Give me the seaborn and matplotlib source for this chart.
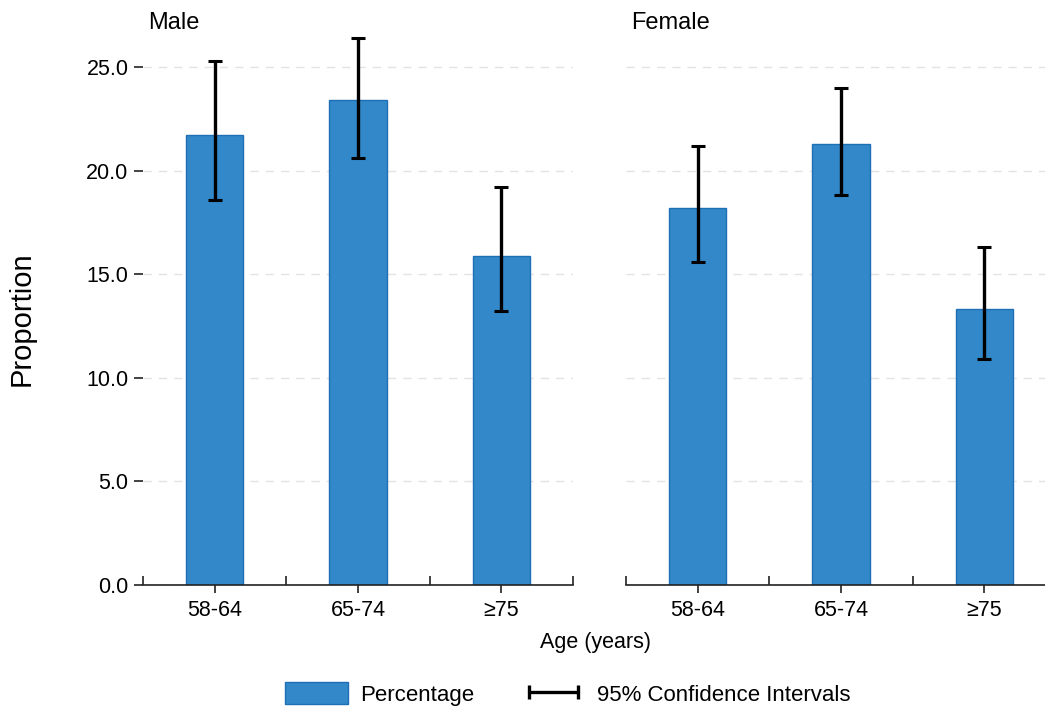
import matplotlib
matplotlib.use("Agg")
import matplotlib.pyplot as plt
import seaborn as sns
import pandas as pd
import numpy as np
from matplotlib.patches import Patch
from matplotlib.lines import Line2D
from matplotlib.ticker import FixedLocator

ages = ['58-64', '65-74', '≥75']
male_pct = [21.7, 23.4, 15.9]
male_lo = [18.6, 20.6, 13.2]
male_hi = [25.3, 26.4, 19.2]
female_pct = [18.2, 21.3, 13.3]
female_lo = [15.6, 18.8, 10.9]
female_hi = [21.2, 24.0, 16.3]
yticks = [0.0, 5.0, 10.0, 15.0, 20.0, 25.0]

sns.set_style("white")
plt.rcParams['font.family'] = ['Liberation Sans', 'DejaVu Sans']
plt.rcParams['text.color'] = 'black'
plt.rcParams['xtick.color'] = 'black'
plt.rcParams['ytick.color'] = 'black'
plt.rcParams['xtick.labelcolor'] = 'black'
plt.rcParams['ytick.labelcolor'] = 'black'

BAR = '#3288C8'
EDGE = '#1F6FB4'

W, H = 1045, 711
fig = plt.figure(figsize=(W / 100, H / 100), dpi=100)

bottom = (H - 585) / H
height = 27.5 * 20.72 / H
ax1 = fig.add_axes([143 / W, bottom, 430 / W, height])
ax2 = fig.add_axes([626 / W, bottom, 430 / W, height])

panels = [(ax1, 'Male', male_pct, male_lo, male_hi, 148),
          (ax2, 'Female', female_pct, female_lo, female_hi, 631)]

for ax, title, pct, lo, hi, tx in panels:
    df = pd.DataFrame({'age': ages, 'pct': pct})
    sns.barplot(data=df, x='age', y='pct', width=0.4, color=BAR,
                edgecolor=EDGE, linewidth=1.0, saturation=1, ax=ax, zorder=2)
    pct_a = np.array(pct)
    yerr = [pct_a - np.array(lo), np.array(hi) - pct_a]
    ax.errorbar(np.arange(len(ages)), pct_a, yerr=yerr, fmt='none',
                ecolor='black', elinewidth=2.4, capsize=5, capthick=2.2, zorder=3)
    ax.set_xlim(-0.5, 2.5)
    ax.set_ylim(0, 27.5)
    ax.set_yticks(yticks)
    ax.set_xlabel('')
    ax.set_ylabel('')
    for s in ['top', 'right', 'left']:
        ax.spines[s].set_visible(False)
    ax.spines['bottom'].set_color('#222222')
    ax.spines['bottom'].set_linewidth(1.2)
    ax.set_axisbelow(True)
    ax.yaxis.grid(True, linestyle=(0, (6, 5)), color='#e3e3e3', linewidth=1.0)
    ax.xaxis.grid(False)
    ax.xaxis.set_minor_locator(FixedLocator([-0.5, 0.5, 1.5, 2.5]))
    ax.tick_params(axis='x', which='major', direction='out', length=6, width=1.2,
                   color='#222222', labelsize=15.5, pad=5, bottom=True,
                   labelcolor='black')
    ax.tick_params(axis='x', which='minor', direction='in', length=6.5, width=1.2,
                   color='#222222', bottom=True)
    fig.text(tx / W, 1 - 29 / H, title, fontsize=17, va='baseline', ha='left',
             color='black')

ax1.yaxis.set_major_formatter(matplotlib.ticker.FormatStrFormatter('%.1f'))
ax1.tick_params(axis='y', direction='out', length=6.5, width=1.2, color='#222222',
                labelsize=15.5, pad=4, left=True, labelcolor='black')
ax2.tick_params(axis='y', left=False, labelleft=False)

fig.text(22 / W, (H - 319) / H, 'Proportion', rotation=90, fontsize=21,
         ha='center', va='center', color='black')
fig.text(595 / W, (H - 648) / H, 'Age (years)', fontsize=15.5,
         ha='center', va='baseline', color='black')

handles = [Patch(facecolor=BAR, edgecolor=EDGE, linewidth=1.0),
           Line2D([0, 1], [0, 0], color='black', lw=2.4, marker='|',
                  markersize=10, markeredgewidth=2.4)]
leg = fig.legend(handles, ['Percentage', '95% Confidence Intervals'],
                 loc='center', bbox_to_anchor=(568 / W, 17 / H), ncol=2, frameon=False,
                 fontsize=16, handlelength=2.8, handleheight=1.15, handletextpad=0.55,
                 columnspacing=2.2, numpoints=2)
for t in leg.get_texts():
    t.set_color('black')

fig.savefig('out.png', dpi=100)
